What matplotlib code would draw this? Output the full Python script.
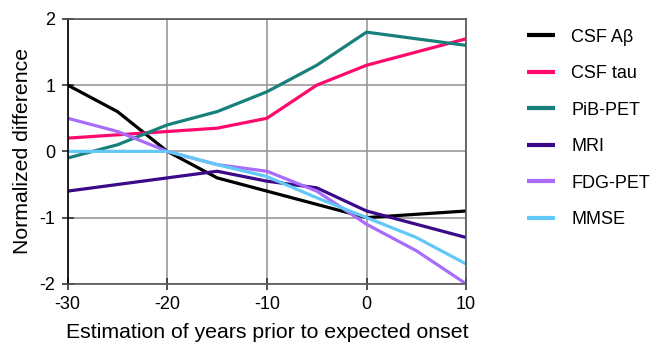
import matplotlib
matplotlib.use("Agg")
import matplotlib.pyplot as plt

plt.rcParams['font.family'] = ['Liberation Sans', 'DejaVu Sans']
plt.rcParams['axes.unicode_minus'] = False

years = [-30, -25, -20, -15, -10, -5, 0, 5, 10]
series_names = ["CSF Aβ", "CSF tau", "PiB-PET", "MRI", "FDG-PET", "MMSE"]
csf_abeta = [1.0, 0.6, 0.0, -0.4, -0.6, -0.8, -1.0, -0.95, -0.9]
csf_tau = [0.2, 0.25, 0.3, 0.35, 0.5, 1.0, 1.3, 1.5, 1.7]
pib_pet = [-0.1, 0.1, 0.4, 0.6, 0.9, 1.3, 1.8, 1.7, 1.6]
mri = [-0.6, -0.5, -0.4, -0.3, -0.45, -0.55, -0.9, -1.1, -1.3]
fdg_pet = [0.5, 0.3, 0.0, -0.2, -0.3, -0.6, -1.1, -1.5, -2.0]
mmse = [0.0, 0.0, 0.0, -0.2, -0.38, -0.7, -1.0, -1.3, -1.7]
colors = ["#000000", "#FF0A6C", "#17807A", "#3A0A88", "#A86BFA", "#62C8F8"]
values = [csf_abeta, csf_tau, pib_pet, mri, fdg_pet, mmse]

fig = plt.figure(figsize=(6.64, 3.5), dpi=100)
ax = fig.add_axes([0.102, 0.189, 0.600, 0.757])

for name, vals, c in zip(series_names, values, colors):
    ax.plot(years, vals, color=c, lw=2.3, label=name, solid_capstyle='butt')

ax.set_xlim(-30, 10)
ax.set_ylim(-2, 2)
ax.set_xticks([-30, -20, -10, 0, 10])
ax.set_yticks([-2, -1, 0, 1, 2])
ax.grid(True, color="#999999", lw=1.2)
ax.set_axisbelow(True)
for s in ["top", "right", "bottom"]:
    ax.spines[s].set_color("#555555")
    ax.spines[s].set_linewidth(1.2)
ax.spines["left"].set_color("#000000")
ax.spines["left"].set_linewidth(1.2)
ax.tick_params(axis='both', labelsize=13, length=8, width=1.2, color="#333333",
               direction='inout')
ax.tick_params(axis='x', pad=5)
ax.tick_params(axis='y', pad=5)
ax.set_xlabel("Estimation of years prior to expected onset", fontsize=15.3, labelpad=7)
ax.set_ylabel("Normalized difference", fontsize=15.3, labelpad=5)

leg = fig.legend(loc="upper left", bbox_to_anchor=(0.794, 0.918), bbox_transform=fig.transFigure,
                 frameon=False, fontsize=13, handlelength=1.55, handletextpad=0.9,
                 labelspacing=1.08, borderpad=0, borderaxespad=0)
for h in leg.get_lines():
    h.set_linewidth(3)

fig.savefig("out.png", dpi=100)
